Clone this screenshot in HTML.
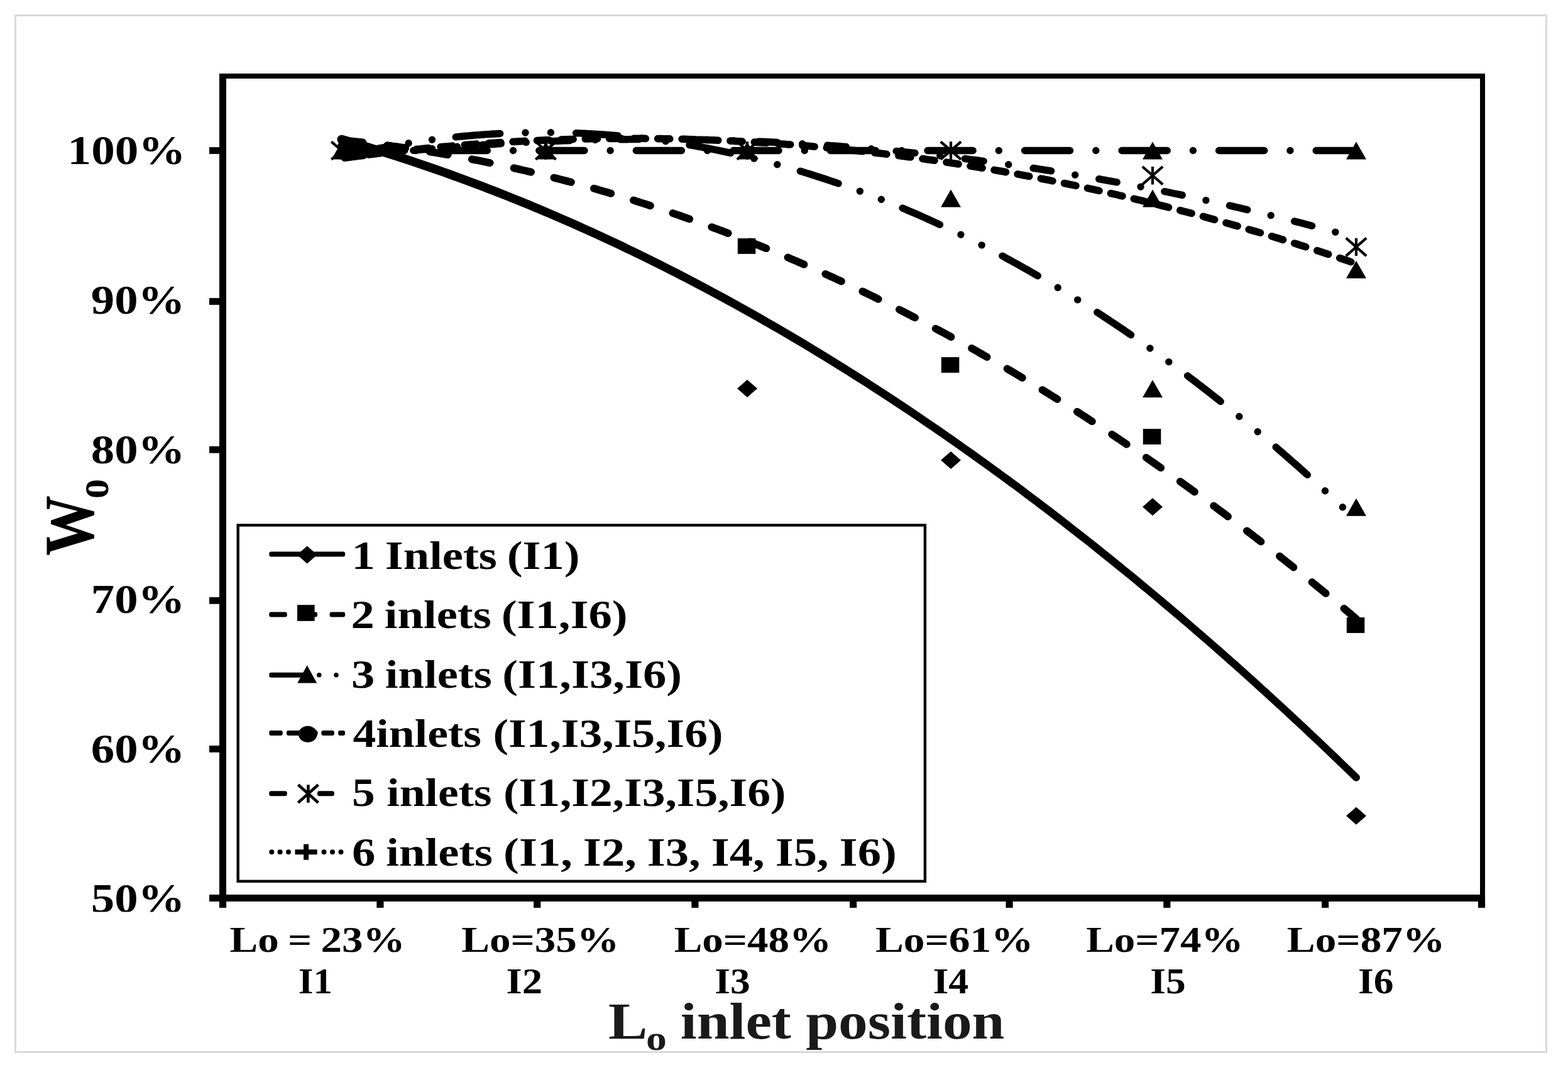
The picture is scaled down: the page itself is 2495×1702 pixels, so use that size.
<!DOCTYPE html>
<html lang="en">
<head>
<meta charset="utf-8">
<title>Wo versus Lo inlet position</title>
<style>
html,body{margin:0;padding:0;background:#fff;}
body{width:2495px;height:1702px;}
svg{display:block;}
svg text{font-family:"Liberation Serif",serif;font-weight:bold;}
</style>
</head>
<body>
<svg width="2495" height="1702" viewBox="0 0 2495 1702" shape-rendering="geometricPrecision">
<defs><clipPath id="c50"><rect x="0" y="1380" width="340" height="70.6"/></clipPath></defs>
<rect x="0" y="0" width="2495" height="1702" fill="#fff"/>
<rect x="24.5" y="24.5" width="2436" height="1649" fill="#fff" stroke="#d9d9d9" stroke-width="3"/>
<rect x="349" y="117" width="2014" height="8" fill="#000"/>
<rect x="2355" y="117" width="8" height="1317" fill="#000"/>
<rect x="349" y="117" width="11" height="1327" fill="#000"/>
<rect x="333" y="1423" width="2030" height="11" fill="#000"/>
<rect x="333" y="234.1" width="18" height="10.8" fill="#000"/>
<rect x="333" y="474.1" width="18" height="10.8" fill="#000"/>
<rect x="333" y="709.9" width="18" height="10.8" fill="#000"/>
<rect x="333" y="949.9" width="18" height="10.8" fill="#000"/>
<rect x="333" y="1186.0" width="18" height="10.8" fill="#000"/>
<rect x="333" y="1423.1" width="18" height="10.8" fill="#000"/>
<rect x="348.9" y="1430" width="11.2" height="14" fill="#000"/>
<rect x="599.3" y="1430" width="11.2" height="14" fill="#000"/>
<rect x="849.1" y="1430" width="11.2" height="14" fill="#000"/>
<rect x="1100.3" y="1430" width="11.2" height="14" fill="#000"/>
<rect x="1352.0" y="1430" width="11.2" height="14" fill="#000"/>
<rect x="1600.5" y="1430" width="11.2" height="14" fill="#000"/>
<rect x="1851.2" y="1430" width="11.2" height="14" fill="#000"/>
<rect x="2103.0" y="1430" width="11.2" height="14" fill="#000"/>
<rect x="2351.9" y="1430" width="11.2" height="14" fill="#000"/>
<g font-family="'Liberation Serif', serif" font-weight="bold">
<text transform="translate(107.58,260.80) scale(1.1650,1)" font-size="64.5" fill="#000">100%</text>
<text transform="translate(144.77,498.80) scale(1.1600,1)" font-size="64.5" fill="#000">90%</text>
<text transform="translate(144.77,736.80) scale(1.1600,1)" font-size="64.5" fill="#000">80%</text>
<text transform="translate(144.77,974.80) scale(1.1600,1)" font-size="64.5" fill="#000">70%</text>
<text transform="translate(144.77,1212.80) scale(1.1600,1)" font-size="64.5" fill="#000">60%</text>
<g clip-path="url(#c50)">
<text transform="translate(144.77,1450.80) scale(1.1600,1)" font-size="64.5" fill="#000">50%</text>
</g>
<text transform="translate(365.49,1514.00) scale(1.1760,1)" font-size="57" word-spacing="-2.04" fill="#000">Lo = 23%</text>
<text transform="translate(474.87,1580.20) scale(1.0701,1)" font-size="57" fill="#000">I1</text>
<text transform="translate(734.19,1514.00) scale(1.1780,1)" font-size="57" fill="#000">Lo=35%</text>
<text transform="translate(805.54,1580.20) scale(1.1349,1)" font-size="57" fill="#000">I2</text>
<text transform="translate(1072.70,1514.00) scale(1.1751,1)" font-size="57" fill="#000">Lo=48%</text>
<text transform="translate(1137.18,1580.20) scale(1.1147,1)" font-size="57" fill="#000">I3</text>
<text transform="translate(1392.89,1514.00) scale(1.1809,1)" font-size="57" fill="#000">Lo=61%</text>
<text transform="translate(1484.47,1580.20) scale(1.1199,1)" font-size="57" fill="#000">I4</text>
<text transform="translate(1728.20,1514.00) scale(1.1751,1)" font-size="57" fill="#000">Lo=74%</text>
<text transform="translate(1830.28,1580.20) scale(1.1147,1)" font-size="57" fill="#000">I5</text>
<text transform="translate(2047.79,1514.00) scale(1.1809,1)" font-size="57" fill="#000">Lo=87%</text>
<text transform="translate(2161.08,1580.20) scale(1.1143,1)" font-size="57" fill="#000">I6</text>
<text transform="translate(968.10,1652.30) scale(1.1400,1)" font-size="82" fill="#1a1a1a">L</text>
<text transform="translate(1028.07,1670.30) scale(1.2169,1)" font-size="54" fill="#1a1a1a">o</text>
<text transform="translate(1082.73,1652.30) scale(1.1376,1)" font-size="82" fill="#1a1a1a">inlet position</text>
<text transform="translate(147.6,884.0) scale(1.16,1) rotate(-90)" font-size="96" fill="#000">W</text>
<text transform="translate(172.4,793.2) scale(1.16,1) rotate(-90)" font-size="63" fill="#000">o</text>
<rect x="378.7" y="835.4" width="1093.2" height="566.4" fill="#fff" stroke="#000" stroke-width="4.4"/>
<text transform="translate(559.44,905.30) scale(1.1650,1)" font-size="64" word-spacing="-2.31" fill="#000">1 Inlets (I1)</text>
<text transform="translate(558.52,998.80) scale(1.1650,1)" font-size="64" word-spacing="-2.21" fill="#000">2 inlets (I1,I6)</text>
<text transform="translate(559.02,1094.30) scale(1.1650,1)" font-size="64" word-spacing="-1.78" fill="#000">3 inlets (I1,I3,I6)</text>
<text transform="translate(561.50,1188.00) scale(1.1506,1)" font-size="64" fill="#000">4inlets (I1,I3,I5,I6)</text>
<text transform="translate(560.06,1282.40) scale(1.1491,1)" font-size="64" fill="#000">5 inlets (I1,I2,I3,I5,I6)</text>
<text transform="translate(559.99,1377.40) scale(1.1650,1)" font-size="64" word-spacing="-1.39" fill="#000">6 inlets (I1, I2, I3, I4, I5, I6)</text>
</g>
<rect x="428.3" y="877.60" width="120.8" height="8.0" rx="3" ry="3"/>
<path d="M472.7 882.6L488.7 868.6L504.7 882.6L488.7 896.6Z"/>
<rect x="428.3" y="973.60" width="28.4" height="8.0" rx="3" ry="3"/>
<rect x="476.5" y="973.60" width="28.5" height="8.0" rx="3" ry="3"/>
<rect x="524.6" y="973.60" width="24.5" height="8.0" rx="3" ry="3"/>
<rect x="473.0" y="962.2" width="27.6" height="25.6"/>
<rect x="428.3" y="1069.70" width="65.7" height="8.0" rx="3" ry="3"/>
<circle cx="507.8" cy="1073.7" r="3.75"/>
<circle cx="535.0" cy="1073.7" r="3.75"/>
<path d="M473.2 1086.6L488.7 1058.2L504.2 1086.6Z"/>
<rect x="428.3" y="1162.10" width="21.5" height="8.0" rx="3" ry="3"/>
<rect x="456.0" y="1162.10" width="28.0" height="8.0" rx="3" ry="3"/>
<rect x="496.0" y="1162.10" width="9.5" height="8.0" rx="3" ry="3"/>
<rect x="511.3" y="1162.10" width="20.5" height="8.0" rx="3" ry="3"/>
<rect x="538.1" y="1162.10" width="10.9" height="8.0" rx="3" ry="3"/>
<ellipse cx="489.8" cy="1167.8" rx="14.9" ry="13.0"/>
<rect x="428.3" y="1258.20" width="28.4" height="8.0" rx="3" ry="3"/>
<rect x="505.0" y="1258.20" width="26.8" height="8.0" rx="3" ry="3"/>
<path d="M474.4 1248.2L506.4 1276.8M474.4 1276.8L506.4 1248.2M490.4 1248.2L490.4 1276.8" fill="none" stroke="#000" stroke-width="4.6" stroke-linecap="butt"/>
<circle cx="432.3" cy="1355.2" r="4.00"/>
<circle cx="445.6" cy="1355.2" r="4.00"/>
<circle cx="459.0" cy="1355.2" r="4.00"/>
<circle cx="515.5" cy="1355.2" r="4.00"/>
<circle cx="529.0" cy="1355.2" r="4.00"/>
<circle cx="542.5" cy="1355.2" r="4.00"/>
<path d="M469.5 1355.2L504.7 1355.2M487.1 1342.7L487.1 1367.7" fill="none" stroke="#000" stroke-width="8.0"/>
<g fill="#000">
<path d="M548.7 239.5L553.5 239.5L558.3 239.5L563.1 239.5L567.9 239.5L572.7 239.5L577.5 239.5L582.3 239.5L587.1 239.5L591.9 239.5L596.7 239.5L601.5 239.5L606.4 239.5L611.2 239.5L616.0 239.5L620.8 239.5M662.0 239.5h0.01M703.2 239.5L708.0 239.5L712.8 239.5L717.6 239.5L722.4 239.5L727.2 239.5L732.1 239.5L736.9 239.5L741.7 239.5L746.5 239.5L751.3 239.5L756.1 239.5L760.9 239.5L765.7 239.5L770.5 239.5L775.3 239.5M816.5 239.5h0.01M857.8 239.5L862.6 239.5L867.4 239.5L872.2 239.5L877.0 239.5L881.8 239.5L886.6 239.5L891.4 239.5L896.2 239.5L901.0 239.5L905.8 239.5L910.6 239.5L915.5 239.5L920.3 239.5L925.1 239.5L929.9 239.5M971.1 239.5h0.01M1012.3 239.5L1017.1 239.5L1021.9 239.5L1026.7 239.5L1031.5 239.5L1036.3 239.5L1041.2 239.5L1046.0 239.5L1050.8 239.5L1055.6 239.5L1060.4 239.5L1065.2 239.5L1070.0 239.5L1074.8 239.5L1079.6 239.5L1084.4 239.5M1125.6 239.5h0.01M1166.9 239.5L1171.7 239.5L1176.5 239.5L1181.3 239.5L1186.1 239.5L1190.9 239.5L1195.7 239.5L1200.5 239.5L1205.3 239.5L1210.1 239.5L1214.9 239.5L1219.7 239.5L1224.6 239.5L1229.4 239.5L1234.2 239.5L1239.0 239.5M1280.2 239.5h0.01M1321.4 239.5L1326.2 239.5L1331.0 239.5L1335.8 239.5L1340.6 239.5L1345.4 239.5L1350.3 239.5L1355.1 239.5L1359.9 239.5L1364.7 239.5L1369.5 239.5L1374.3 239.5L1379.1 239.5L1383.9 239.5L1388.7 239.5L1393.5 239.5M1434.7 239.5h0.01M1476.0 239.5L1480.8 239.5L1485.6 239.5L1490.4 239.5L1495.2 239.5L1500.0 239.5L1504.8 239.5L1509.6 239.5L1514.4 239.5L1519.2 239.5L1524.0 239.5L1528.8 239.5L1533.7 239.5L1538.5 239.5L1543.3 239.5L1548.1 239.5M1589.3 239.5h0.01M1630.5 239.5L1635.3 239.5L1640.1 239.5L1644.9 239.5L1649.7 239.5L1654.5 239.5L1659.4 239.5L1664.2 239.5L1669.0 239.5L1673.8 239.5L1678.6 239.5L1683.4 239.5L1688.2 239.5L1693.0 239.5L1697.8 239.5L1702.6 239.5M1743.8 239.5h0.01M1785.1 239.5L1789.9 239.5L1794.7 239.5L1799.5 239.5L1804.3 239.5L1809.1 239.5L1813.9 239.5L1818.7 239.5L1823.5 239.5L1828.3 239.5L1833.1 239.5L1837.9 239.5L1842.8 239.5L1847.6 239.5L1852.4 239.5L1857.2 239.5M1898.4 239.5h0.01M1939.6 239.5L1944.4 239.5L1949.2 239.5L1954.0 239.5L1958.8 239.5L1963.6 239.5L1968.5 239.5L1973.3 239.5L1978.1 239.5L1982.9 239.5L1987.7 239.5L1992.5 239.5L1997.3 239.5L2002.1 239.5L2006.9 239.5L2011.7 239.5M2052.9 239.5h0.01M2094.2 239.5L2099.1 239.5L2104.0 239.5L2108.9 239.5L2113.8 239.5L2118.7 239.5L2123.6 239.5L2128.5 239.5L2133.4 239.5L2138.4 239.5L2143.3 239.5L2148.2 239.5L2153.1 239.5L2158.0 239.5" fill="none" stroke="#000" stroke-width="11.4" stroke-linecap="round" stroke-linejoin="round"/>
<path d="M541.5 228.6L549.6 231.0L557.7 233.3L565.7 235.7L573.8 238.1L581.8 240.5L589.9 242.9L598.0 245.4L606.0 247.9L614.1 250.4L622.1 253.0L630.2 255.6L638.3 258.2L646.3 260.8L654.4 263.5L662.4 266.2L670.5 268.9L678.6 271.7L686.6 274.5L694.7 277.3L702.7 280.1L710.8 283.0L718.9 285.9L726.9 288.8L735.0 291.8L743.1 294.7L751.1 297.7L759.2 300.8L767.2 303.8L775.3 306.9L783.4 310.0L791.4 313.2L799.5 316.3L807.6 319.5L815.6 322.7L823.7 326.0L831.7 329.3L839.8 332.6L847.9 335.9L855.9 339.3L864.0 342.7L872.1 346.1L880.1 349.5L888.2 353.0L896.2 356.5L904.3 360.0L912.4 363.6L920.4 367.2L928.5 370.8L936.6 374.4L944.6 378.1L952.7 381.8L960.8 385.5L968.8 389.3L976.9 393.0L985.0 396.8L993.0 400.7L1001.1 404.5L1009.2 408.4L1017.2 412.3L1025.3 416.3L1033.4 420.3L1041.4 424.3L1049.5 428.3L1057.5 432.3L1065.6 436.4L1073.7 440.5L1081.7 444.7L1089.8 448.8L1097.9 453.0L1105.9 457.2L1114.0 461.5L1122.1 465.8L1130.1 470.1L1138.2 474.4L1146.3 478.8L1154.3 483.2L1162.4 487.6L1170.5 492.0L1178.5 496.5L1186.6 501.0L1194.7 505.5L1202.8 510.1L1210.8 514.7L1218.9 519.3L1227.0 523.9L1235.0 528.6L1243.1 533.3L1251.2 538.0L1259.2 542.7L1267.3 547.5L1275.4 552.3L1283.4 557.1L1291.5 562.0L1299.6 566.9L1307.6 571.8L1315.7 576.7L1323.8 581.7L1331.8 586.7L1339.9 591.7L1348.0 596.8L1356.1 601.9L1364.1 607.0L1372.2 612.1L1380.3 617.3L1388.3 622.5L1396.4 627.7L1404.5 633.0L1412.5 638.2L1420.6 643.5L1428.7 648.9L1436.7 654.2L1444.8 659.6L1452.9 665.0L1461.0 670.5L1469.0 675.9L1477.1 681.4L1485.2 687.0L1493.2 692.5L1501.3 698.1L1509.4 703.7L1517.4 709.3L1525.5 715.0L1533.6 720.7L1541.7 726.4L1549.7 732.2L1557.8 737.9L1565.9 743.7L1573.9 749.6L1582.0 755.4L1590.1 761.3L1598.2 767.2L1606.2 773.2L1614.3 779.1L1622.4 785.1L1630.4 791.2L1638.5 797.2L1646.6 803.3L1654.7 809.4L1662.7 815.6L1670.8 821.7L1678.9 827.9L1686.9 834.1L1695.0 840.4L1703.1 846.7L1711.2 853.0L1719.2 859.3L1727.3 865.6L1735.4 872.0L1743.4 878.4L1751.5 884.9L1759.6 891.4L1767.7 897.9L1775.7 904.4L1783.8 910.9L1791.9 917.5L1800.0 924.1L1808.0 930.8L1816.1 937.4L1824.2 944.1L1832.2 950.8L1840.3 957.6L1848.4 964.4L1856.5 971.2L1864.5 978.0L1872.6 984.8L1880.7 991.7L1888.8 998.6L1896.8 1005.6L1904.9 1012.6L1913.0 1019.6L1921.1 1026.6L1929.1 1033.6L1937.2 1040.7L1945.3 1047.8L1953.3 1055.0L1961.4 1062.1L1969.5 1069.3L1977.6 1076.5L1985.6 1083.8L1993.7 1091.1L2001.8 1098.4L2009.9 1105.7L2017.9 1113.0L2026.0 1120.4L2034.1 1127.8L2042.2 1135.3L2050.2 1142.8L2058.3 1150.2L2066.4 1157.8L2074.5 1165.3L2082.5 1172.9L2090.6 1180.5L2098.7 1188.1L2106.8 1195.8L2114.8 1203.5L2122.9 1211.2L2131.0 1219.0L2139.1 1226.7L2147.1 1234.5L2153.9 1241.1L2162.1 1232.5L2155.4 1226.0L2147.3 1218.2L2139.2 1210.4L2131.2 1202.6L2123.1 1194.9L2115.0 1187.2L2106.9 1179.5L2098.8 1171.8L2090.7 1164.2L2082.6 1156.6L2074.6 1149.0L2066.5 1141.5L2058.4 1134.0L2050.3 1126.5L2042.2 1119.0L2034.1 1111.6L2026.1 1104.2L2018.0 1096.8L2009.9 1089.4L2001.8 1082.1L1993.7 1074.8L1985.6 1067.5L1977.6 1060.3L1969.5 1053.1L1961.4 1045.9L1953.3 1038.7L1945.2 1031.6L1937.1 1024.5L1929.0 1017.4L1921.0 1010.4L1912.9 1003.4L1904.8 996.4L1896.7 989.4L1888.6 982.5L1880.5 975.6L1872.4 968.7L1864.4 961.8L1856.3 955.0L1848.2 948.2L1840.1 941.4L1832.0 934.7L1823.9 928.0L1815.8 921.3L1807.8 914.6L1799.7 908.0L1791.6 901.4L1783.5 894.8L1775.4 888.3L1767.3 881.7L1759.2 875.2L1751.2 868.8L1743.1 862.3L1735.0 855.9L1726.9 849.5L1718.8 843.2L1710.7 836.9L1702.6 830.6L1694.6 824.3L1686.5 818.0L1678.4 811.8L1670.3 805.6L1662.2 799.5L1654.1 793.3L1646.0 787.2L1638.0 781.2L1629.9 775.1L1621.8 769.1L1613.7 763.1L1605.6 757.1L1597.5 751.2L1589.4 745.3L1581.3 739.4L1573.3 733.5L1565.2 727.7L1557.1 721.9L1549.0 716.1L1540.9 710.4L1532.8 704.7L1524.7 699.0L1516.6 693.3L1508.6 687.7L1500.5 682.1L1492.4 676.5L1484.3 670.9L1476.2 665.4L1468.1 659.9L1460.0 654.4L1451.9 649.0L1443.8 643.6L1435.8 638.2L1427.7 632.8L1419.6 627.5L1411.5 622.2L1403.4 616.9L1395.3 611.7L1387.2 606.5L1379.1 601.3L1371.0 596.1L1363.0 591.0L1354.9 585.9L1346.8 580.8L1338.7 575.7L1330.6 570.7L1322.5 565.7L1314.4 560.7L1306.3 555.8L1298.2 550.9L1290.1 546.0L1282.1 541.1L1274.0 536.3L1265.9 531.5L1257.8 526.7L1249.7 522.0L1241.6 517.2L1233.5 512.5L1225.4 507.9L1217.3 503.2L1209.2 498.6L1201.2 494.0L1193.1 489.5L1185.0 485.0L1176.9 480.5L1168.8 476.0L1160.7 471.5L1152.6 467.1L1144.5 462.7L1136.4 458.4L1128.3 454.0L1120.2 449.7L1112.1 445.5L1104.1 441.2L1096.0 437.0L1087.9 432.8L1079.8 428.6L1071.7 424.5L1063.6 420.4L1055.5 416.3L1047.4 412.2L1039.3 408.2L1031.2 404.2L1023.1 400.2L1015.0 396.3L1006.9 392.4L998.8 388.5L990.8 384.6L982.7 380.8L974.6 377.0L966.5 373.2L958.4 369.5L950.3 365.7L942.2 362.0L934.1 358.4L926.0 354.7L917.9 351.1L909.8 347.5L901.7 344.0L893.6 340.4L885.5 336.9L877.4 333.5L869.3 330.0L861.2 326.6L853.2 323.2L845.1 319.8L837.0 316.5L828.9 313.2L820.8 309.9L812.7 306.7L804.6 303.4L796.5 300.3L788.4 297.1L780.3 293.9L772.2 290.8L764.1 287.7L756.0 284.7L747.9 281.7L739.8 278.7L731.7 275.7L723.6 272.7L715.5 269.8L707.4 266.9L699.3 264.1L691.2 261.2L683.1 258.4L675.0 255.7L666.9 252.9L658.8 250.2L650.7 247.5L642.6 244.8L634.5 242.2L626.4 239.6L618.3 237.0L610.2 234.4L602.1 231.9L594.0 229.4L585.9 226.9L577.9 224.5L569.8 222.1L561.7 219.7L553.6 217.3L545.5 215.0Z"/><circle cx="543.5" cy="221.8" r="7.1"/><circle cx="2158.0" cy="1236.8" r="6.0"/>
<path d="M548.4 223.4L553.2 223.9L558.1 224.4L562.9 224.9L567.8 225.4L572.6 226.0L577.4 226.5M616.2 231.3L621.0 232.0L625.8 232.6L630.7 233.3L635.5 234.0L640.3 234.6L645.2 235.3M683.7 241.3L688.5 242.1L693.3 242.9L698.2 243.7L703.0 244.5L707.8 245.4L712.6 246.2M750.9 253.3L755.7 254.3L760.5 255.2L765.3 256.2L770.1 257.2L774.8 258.1L779.6 259.1M817.6 267.3L822.2 268.4L826.7 269.4L831.3 270.5L835.9 271.5L840.5 272.6L845.0 273.7M881.5 282.7L886.1 283.9L890.6 285.0L895.2 286.2L899.7 287.4L904.2 288.6L908.8 289.8M945.0 299.8L949.5 301.1L954.0 302.4L958.5 303.7L963.0 305.0L967.6 306.3L972.1 307.7M1008.0 318.6L1012.5 320.0L1017.0 321.5L1021.4 322.9L1025.9 324.3L1030.4 325.8L1034.8 327.2M1070.5 339.1L1074.9 340.6L1079.4 342.2L1083.8 343.7L1088.2 345.3L1092.7 346.8L1097.1 348.4M1132.4 361.2L1136.7 362.8L1141.1 364.4L1145.5 366.1L1149.8 367.7L1154.2 369.4L1158.6 371.0M1193.3 384.6L1197.6 386.3L1201.9 388.1L1206.3 389.8L1210.6 391.6L1214.9 393.3L1219.2 395.1M1253.6 409.5L1257.9 411.4L1262.2 413.2L1266.5 415.0L1270.8 416.9L1275.0 418.8L1279.3 420.6M1313.4 435.8L1317.6 437.8L1321.8 439.7L1326.1 441.6L1330.3 443.6L1334.5 445.6L1338.8 447.5M1372.5 463.5L1376.7 465.5L1380.9 467.6L1385.1 469.6L1389.3 471.6L1393.4 473.7L1397.6 475.8M1431.0 492.5L1435.1 494.6L1439.3 496.7L1443.4 498.8L1447.6 501.0L1451.7 503.1L1455.9 505.3M1488.8 522.7L1493.0 524.9L1497.1 527.1L1501.2 529.3L1505.3 531.5L1509.4 533.7L1513.4 536.0M1546.1 554.1L1550.1 556.3L1554.2 558.6L1558.3 560.9L1562.3 563.2L1566.4 565.6L1570.4 567.9M1602.7 586.6L1606.7 589.0L1610.7 591.3L1614.7 593.7L1618.7 596.1L1622.7 598.5L1626.7 600.9M1658.6 620.2L1662.6 622.6L1666.6 625.1L1670.5 627.5L1674.5 630.0L1678.4 632.5L1682.4 634.9M1714.0 654.9L1717.9 657.4L1721.9 660.0L1725.9 662.5L1729.8 665.1L1733.8 667.7L1737.7 670.2M1769.3 690.9L1773.2 693.5L1777.1 696.2L1781.0 698.8L1784.9 701.4L1788.8 704.0L1792.7 706.7M1823.9 727.9L1827.8 730.6L1831.6 733.3L1835.5 736.0L1839.4 738.7L1843.2 741.4L1847.1 744.1M1877.9 765.9L1881.7 768.6L1885.5 771.4L1889.4 774.1L1893.2 776.9L1897.0 779.6L1900.8 782.4M1931.2 804.7L1935.0 807.5L1938.8 810.3L1942.6 813.1L1946.4 815.9L1950.2 818.8L1953.9 821.6M1984.0 844.4L1987.7 847.2L1991.5 850.1L1995.2 853.0L1999.0 855.8L2002.7 858.7L2006.4 861.6M2036.1 884.8L2039.8 887.7L2043.5 890.7L2047.2 893.6L2050.9 896.5L2054.6 899.4L2058.3 902.4M2087.7 926.0L2091.3 929.0L2095.0 932.0L2098.6 935.0L2102.3 937.9L2105.9 940.9L2109.6 943.9M2138.6 968.0L2141.8 970.7L2145.1 973.4L2148.3 976.1L2151.5 978.8L2154.8 981.6L2158.0 984.3" fill="none" stroke="#000" stroke-width="12.0" stroke-linecap="round" stroke-linejoin="round"/>
<path d="M548.1 247.7L552.7 246.7L557.3 245.6L561.9 244.6L566.5 243.5L571.1 242.5L575.8 241.5L580.4 240.6L585.0 239.6L589.6 238.7L594.3 237.7L598.9 236.8L603.5 235.9L608.2 235.0L612.8 234.2M650.1 227.7h0.01M687.5 222.3h0.01M725.3 217.9L730.0 217.4L734.7 217.0L739.4 216.5L744.1 216.1L748.8 215.7L753.4 215.3L758.1 214.9L762.8 214.6L767.5 214.2L772.2 213.9L776.9 213.6L781.6 213.3L786.3 213.0L791.0 212.7L795.7 212.5M836.0 211.0h0.01M876.4 210.8h0.01M916.5 211.7L921.3 211.9L926.0 212.1L930.8 212.3L935.6 212.6L940.3 212.8L945.1 213.1L949.9 213.4L954.7 213.7L959.4 214.0L964.2 214.4L969.0 214.7L973.7 215.1L978.5 215.5L983.2 215.9M1021.3 219.7h0.01M1059.2 224.6h0.01M1097.0 230.6L1101.7 231.4L1106.4 232.2L1111.1 233.1L1115.8 233.9L1120.5 234.8L1125.2 235.7L1129.9 236.6L1134.5 237.5L1139.2 238.5L1143.9 239.4L1148.6 240.4L1153.3 241.4L1157.9 242.4L1162.6 243.4M1199.8 252.1h0.01M1236.8 261.7h0.01M1273.4 272.2L1278.1 273.6L1282.7 275.1L1287.4 276.5L1292.1 278.0L1296.8 279.5L1301.4 281.0L1306.1 282.5L1310.8 284.0L1315.4 285.5L1320.1 287.1L1324.7 288.7L1329.4 290.2L1334.0 291.8M1368.3 304.1h0.01M1402.3 317.2h0.01M1436.1 331.0L1440.7 332.9L1445.3 334.9L1449.9 336.9L1454.4 338.8L1459.0 340.8L1463.6 342.8L1468.2 344.9L1472.7 346.9L1477.3 349.0L1481.8 351.0L1486.4 353.1L1490.9 355.2L1495.4 357.3M1528.9 373.2h0.01M1562.1 389.9h0.01M1594.9 407.1L1599.3 409.5L1603.6 411.9L1608.0 414.3L1612.4 416.7L1616.7 419.1L1621.1 421.5L1625.4 423.9L1629.7 426.4L1634.1 428.8L1638.4 431.3L1642.7 433.7L1647.0 436.2L1651.3 438.7M1683.2 457.5h0.01M1714.7 476.9h0.01M1745.8 496.8L1750.0 499.5L1754.2 502.2L1758.3 505.0L1762.5 507.7L1766.6 510.5L1770.8 513.2L1774.9 516.0L1779.0 518.8L1783.1 521.5L1787.3 524.3L1791.4 527.1L1795.5 530.0L1799.6 532.8M1829.9 554.0h0.01M1859.8 575.6h0.01M1889.6 597.8L1893.4 600.7L1897.2 603.5L1901.0 606.4L1904.7 609.3L1908.5 612.2L1912.3 615.1L1916.0 618.0L1919.8 620.9L1923.5 623.9L1927.3 626.8L1931.0 629.7L1934.8 632.7L1938.5 635.6L1942.2 638.6M1971.9 662.5h0.01M2001.2 686.7h0.01M2030.2 711.3L2033.8 714.4L2037.4 717.5L2041.0 720.6L2044.6 723.8L2048.2 726.9L2051.8 730.0L2055.3 733.2L2058.9 736.3L2062.5 739.4L2066.1 742.6L2069.6 745.7L2073.2 748.9L2076.7 752.1L2080.3 755.2M2108.5 780.8h0.01M2136.4 806.7h0.01" fill="none" stroke="#000" stroke-width="11.4" stroke-linecap="round" stroke-linejoin="round"/>
<path d="M548.3 251.0L553.0 250.3L557.8 249.7L562.6 249.1L567.3 248.5M586.4 246.0L591.2 245.5L595.9 244.9L600.7 244.3L605.5 243.7M624.6 241.5L629.3 241.0L634.1 240.5L638.9 239.9L643.7 239.4M662.8 237.4L667.6 237.0L672.3 236.5L677.1 236.0L681.9 235.6M701.1 233.8L705.8 233.4L710.6 232.9L715.4 232.5L720.2 232.1M739.4 230.6L744.1 230.2L748.9 229.8L753.7 229.5L758.5 229.1M777.7 227.8L782.5 227.5L787.3 227.2L792.1 226.9L796.9 226.6M816.1 225.4L820.9 225.2L825.7 224.9L830.5 224.7L835.3 224.4M854.5 223.5L859.3 223.3L864.1 223.1L868.9 222.9L873.7 222.7M892.9 222.1L897.7 221.9L902.5 221.8L907.3 221.6L912.1 221.5M931.3 221.0L936.1 220.9L940.9 220.8L945.7 220.8L950.5 220.7M969.7 220.4L974.5 220.4L979.4 220.4L984.2 220.3L989.0 220.3M1008.2 220.3L1013.0 220.3L1017.8 220.3L1022.6 220.3L1027.4 220.4M1046.6 220.6L1051.4 220.6L1056.2 220.7L1061.0 220.8L1065.8 220.9M1085.1 221.3L1089.9 221.4L1094.7 221.6L1099.5 221.7L1104.3 221.8M1123.5 222.5L1128.3 222.7L1133.1 222.8L1137.9 223.0L1142.7 223.2M1161.9 224.1L1166.7 224.3L1171.5 224.6L1176.3 224.8L1181.1 225.1M1200.3 226.1L1205.1 226.4L1209.9 226.7L1214.7 227.0L1219.5 227.3M1238.6 228.6L1243.4 229.0L1248.2 229.3L1253.0 229.7L1257.8 230.0M1277.0 231.5L1281.8 231.9L1286.5 232.3L1291.3 232.8L1296.1 233.2M1315.3 234.9L1320.0 235.3L1324.8 235.8L1329.6 236.3L1334.4 236.7M1353.5 238.7L1358.3 239.2L1363.1 239.7L1367.9 240.2L1372.6 240.7M1391.7 242.9L1396.5 243.5L1401.3 244.0L1406.0 244.6L1410.8 245.2M1429.9 247.6L1434.7 248.2L1439.4 248.8L1444.2 249.4L1448.9 250.0M1468.0 252.6L1472.8 253.3L1477.5 254.0L1482.3 254.6L1487.0 255.3M1506.0 258.1L1510.8 258.9L1515.5 259.6L1520.3 260.3L1525.0 261.0M1544.0 264.1L1548.8 264.8L1553.5 265.6L1558.2 266.4L1563.0 267.2M1581.9 270.4L1586.5 271.2L1591.2 272.0L1595.9 272.8L1600.5 273.7M1619.1 277.0L1623.8 277.9L1628.4 278.8L1633.1 279.6L1637.7 280.5M1656.3 284.1L1661.0 285.0L1665.6 285.9L1670.3 286.8L1674.9 287.8M1693.5 291.5L1698.1 292.5L1702.7 293.5L1707.4 294.4L1712.0 295.4M1730.5 299.4L1735.1 300.4L1739.8 301.4L1744.4 302.4L1749.0 303.4M1767.5 307.6L1772.1 308.7L1776.7 309.7L1781.3 310.8L1785.9 311.9M1804.3 316.2L1808.9 317.3L1813.5 318.4L1818.1 319.5L1822.7 320.7M1841.1 325.2L1845.7 326.4L1850.3 327.5L1854.9 328.7L1859.5 329.9M1877.8 334.6L1882.4 335.8L1887.0 337.0L1891.5 338.2L1896.1 339.4M1914.4 344.3L1918.9 345.6L1923.5 346.8L1928.1 348.1L1932.6 349.4M1950.9 354.5L1955.4 355.8L1960.0 357.1L1964.5 358.4L1969.1 359.7M1987.2 365.0L1991.8 366.3L1996.3 367.6L2000.9 369.0L2005.4 370.3M2023.5 375.8L2028.1 377.2L2032.6 378.6L2037.1 380.0L2041.6 381.4M2059.7 387.0L2064.2 388.4L2068.7 389.9L2073.2 391.3L2077.7 392.7M2095.7 398.6L2100.2 400.0L2104.7 401.5L2109.2 403.0L2113.7 404.5M2131.7 410.5L2136.2 412.0L2140.7 413.5L2145.1 415.0L2149.6 416.6" fill="none" stroke="#000" stroke-width="11.6" stroke-linecap="round" stroke-linejoin="round"/>
<path d="M548.5 251.1L553.4 250.5L558.4 249.9L563.3 249.3L568.3 248.7L573.3 248.1L578.2 247.6M618.0 243.2h0.01M657.8 239.3L662.7 238.8L667.7 238.4L672.7 237.9L677.7 237.5L682.6 237.0L687.6 236.6M727.5 233.3h0.01M767.3 230.5L772.3 230.1L777.3 229.8L782.3 229.5L787.3 229.2L792.3 228.9L797.2 228.6M837.2 226.4h0.01M877.1 224.6L882.1 224.4L887.1 224.2L892.1 224.0L897.1 223.9L902.1 223.7L907.1 223.5M947.0 222.5h0.01M987.0 221.8L992.0 221.7L997.0 221.7L1002.0 221.6L1007.0 221.6L1012.0 221.5L1017.0 221.5M1056.9 221.5h0.01M1096.9 221.9L1101.9 222.0L1106.9 222.1L1111.9 222.2L1116.9 222.3L1121.9 222.4L1126.9 222.5M1166.8 223.6h0.01M1206.8 225.1L1211.8 225.3L1216.8 225.5L1221.8 225.8L1226.8 226.0L1231.7 226.2L1236.7 226.5M1276.7 228.7h0.01M1316.5 231.3L1321.5 231.6L1326.5 232.0L1331.5 232.3L1336.5 232.7L1341.5 233.1L1346.4 233.5M1386.3 236.8h0.01M1426.1 240.4L1431.1 240.9L1436.0 241.4L1441.0 241.9L1446.0 242.4L1450.9 242.9L1455.9 243.4M1495.7 247.8h0.01M1535.3 252.5L1540.3 253.1L1545.3 253.8L1550.2 254.4L1555.2 255.0L1560.1 255.7L1565.1 256.3M1604.7 261.7h0.01M1644.1 267.5L1648.8 268.2L1653.6 269.0L1658.4 269.7L1663.1 270.5L1667.9 271.2L1672.6 271.9M1710.7 278.2h0.01M1748.7 284.7L1753.4 285.6L1758.2 286.4L1762.9 287.3L1767.7 288.1L1772.4 289.0L1777.2 289.9M1815.0 297.1h0.01M1852.9 304.6L1857.6 305.5L1862.3 306.5L1867.0 307.5L1871.8 308.5L1876.5 309.4L1881.2 310.4M1918.9 318.6h0.01M1956.5 327.0L1961.2 328.1L1965.9 329.2L1970.6 330.3L1975.3 331.4L1980.0 332.5L1984.7 333.6M2022.2 342.6h0.01M2059.6 352.0L2064.2 353.1L2068.9 354.3L2073.6 355.5L2078.2 356.8L2082.9 358.0L2087.6 359.2M2124.8 369.1h0.01" fill="none" stroke="#000" stroke-width="11.4" stroke-linecap="round" stroke-linejoin="round"/>
<path d="M1173.0 618.1L1189.0 604.1L1205.0 618.1L1189.0 632.1Z"/>
<path d="M1497.0 732.0L1513.0 718.0L1529.0 732.0L1513.0 746.0Z"/>
<path d="M1818.0 806.2L1834.0 792.2L1850.0 806.2L1834.0 820.2Z"/>
<path d="M2142.0 1297.7L2158.0 1283.7L2174.0 1297.7L2158.0 1311.7Z"/>
<rect x="1173.8" y="379.1" width="28.5" height="24.8"/>
<rect x="1497.8" y="568.1" width="28.5" height="24.8"/>
<rect x="1818.8" y="682.2" width="28.5" height="24.8"/>
<rect x="2142.8" y="982.1" width="28.5" height="24.8"/>
<path d="M527.5 253.5L543.5 225.5L559.5 253.5Z"/>
<path d="M852.5 253.5L868.5 225.5L884.5 253.5Z"/>
<path d="M1173.0 253.5L1189.0 225.5L1205.0 253.5Z"/>
<path d="M1497.0 329.6L1513.0 301.6L1529.0 329.6Z"/>
<path d="M1818.0 253.5L1834.0 225.5L1850.0 253.5Z"/>
<path d="M1818.0 329.6L1834.0 301.6L1850.0 329.6Z"/>
<path d="M1818.0 632.3L1834.0 604.3L1850.0 632.3Z"/>
<path d="M2142.0 253.5L2158.0 225.5L2174.0 253.5Z"/>
<path d="M2142.0 442.8L2158.0 414.8L2174.0 442.8Z"/>
<path d="M2142.0 820.7L2158.0 792.7L2174.0 820.7Z"/>
<path d="M527.3 225.3L559.7 253.7M527.3 253.7L559.7 225.3M543.5 225.3L543.5 253.7" fill="none" stroke="#000" stroke-width="4.2" stroke-linecap="butt"/>
<path d="M852.3 225.3L884.7 253.7M852.3 253.7L884.7 225.3M868.5 225.3L868.5 253.7" fill="none" stroke="#000" stroke-width="4.2" stroke-linecap="butt"/>
<path d="M1172.8 225.3L1205.2 253.7M1172.8 253.7L1205.2 225.3M1189.0 225.3L1189.0 253.7" fill="none" stroke="#000" stroke-width="4.2" stroke-linecap="butt"/>
<path d="M1496.8 225.3L1529.2 253.7M1496.8 253.7L1529.2 225.3M1513.0 225.3L1513.0 253.7" fill="none" stroke="#000" stroke-width="4.2" stroke-linecap="butt"/>
<path d="M1817.8 265.0L1850.2 293.4M1817.8 293.4L1850.2 265.0M1834.0 265.0L1834.0 293.4" fill="none" stroke="#000" stroke-width="4.2" stroke-linecap="butt"/>
<path d="M2141.8 378.7L2174.2 407.1M2141.8 407.1L2174.2 378.7M2158.0 378.7L2158.0 407.1" fill="none" stroke="#000" stroke-width="4.2" stroke-linecap="butt"/>
<ellipse cx="551.5" cy="233.5" rx="14.5" ry="13"/>
</g>
</svg>
</body>
</html>
